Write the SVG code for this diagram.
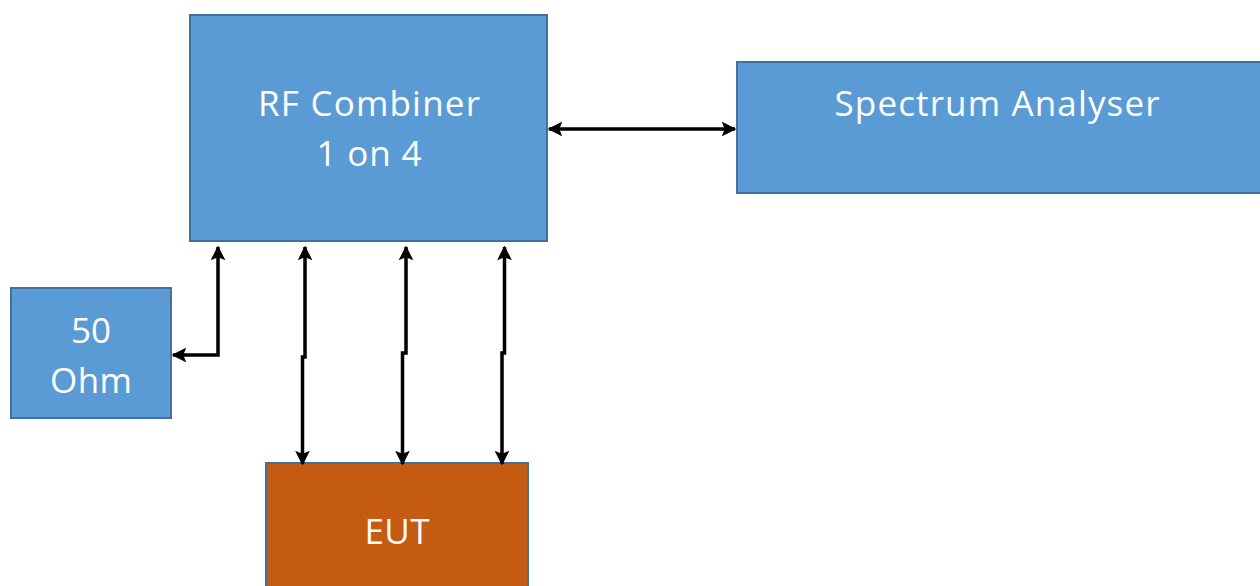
<svg xmlns="http://www.w3.org/2000/svg" width="1260" height="586" viewBox="0 0 1260 586">
<style>
.box{fill:#5b9bd5;stroke:#41719c;stroke-width:2}
.eut{fill:#c55a11;stroke:#41719c;stroke-width:2}
.lbl{font-family:"Open Sans","Noto Sans",sans-serif;font-size:35px;fill:#ffffff;text-anchor:middle}
.c{fill:none;stroke:#000;stroke-width:3.5;marker-start:url(#ah);marker-end:url(#ah)}
</style>
<defs>
<marker id="ah" viewBox="0 0 10 10" refX="9" refY="5" markerWidth="4.2" markerHeight="4.2" orient="auto-start-reverse" markerUnits="strokeWidth">
<path d="M0,0 L10,5 L0,10 L2,5 Z" fill="#000"/>
</marker>
</defs>
<rect width="1260" height="586" fill="#fff"/>
<g id="rf-combiner">
<rect class="box" x="190" y="15" width="357" height="226"/>
<text class="lbl" x="369" y="116" textLength="222" lengthAdjust="spacing">RF Combiner</text>
<text class="lbl" x="369" y="166" textLength="105" lengthAdjust="spacing">1 on 4</text>
</g>
<g id="spectrum-analyser">
<rect class="box" x="737" y="62" width="530" height="131"/>
<text class="lbl" x="997" y="116" textLength="325" lengthAdjust="spacing">Spectrum Analyser</text>
</g>
<g id="ohm50">
<rect class="box" x="11" y="288" width="160" height="130"/>
<text class="lbl" x="91" y="343">50</text>
<text class="lbl" x="91" y="393" textLength="82" lengthAdjust="spacing">Ohm</text>
</g>
<g id="eut">
<rect class="eut" x="266" y="463" width="262" height="130"/>
<text class="lbl" x="397" y="544" textLength="65" lengthAdjust="spacing">EUT</text>
</g>
<g id="connectors">
<path class="c" d="M549,129 L735,129"/>
<path class="c" d="M218,247 L218,355 L173,355"/>
<path class="c" d="M305,247 L305,357 L302.5,357 L302.5,464"/>
<path class="c" d="M406,247 L406,353 L402.5,353 L402.5,464"/>
<path class="c" d="M504.5,247 L504.5,353 L502,353 L502,464"/>
</g>
</svg>
